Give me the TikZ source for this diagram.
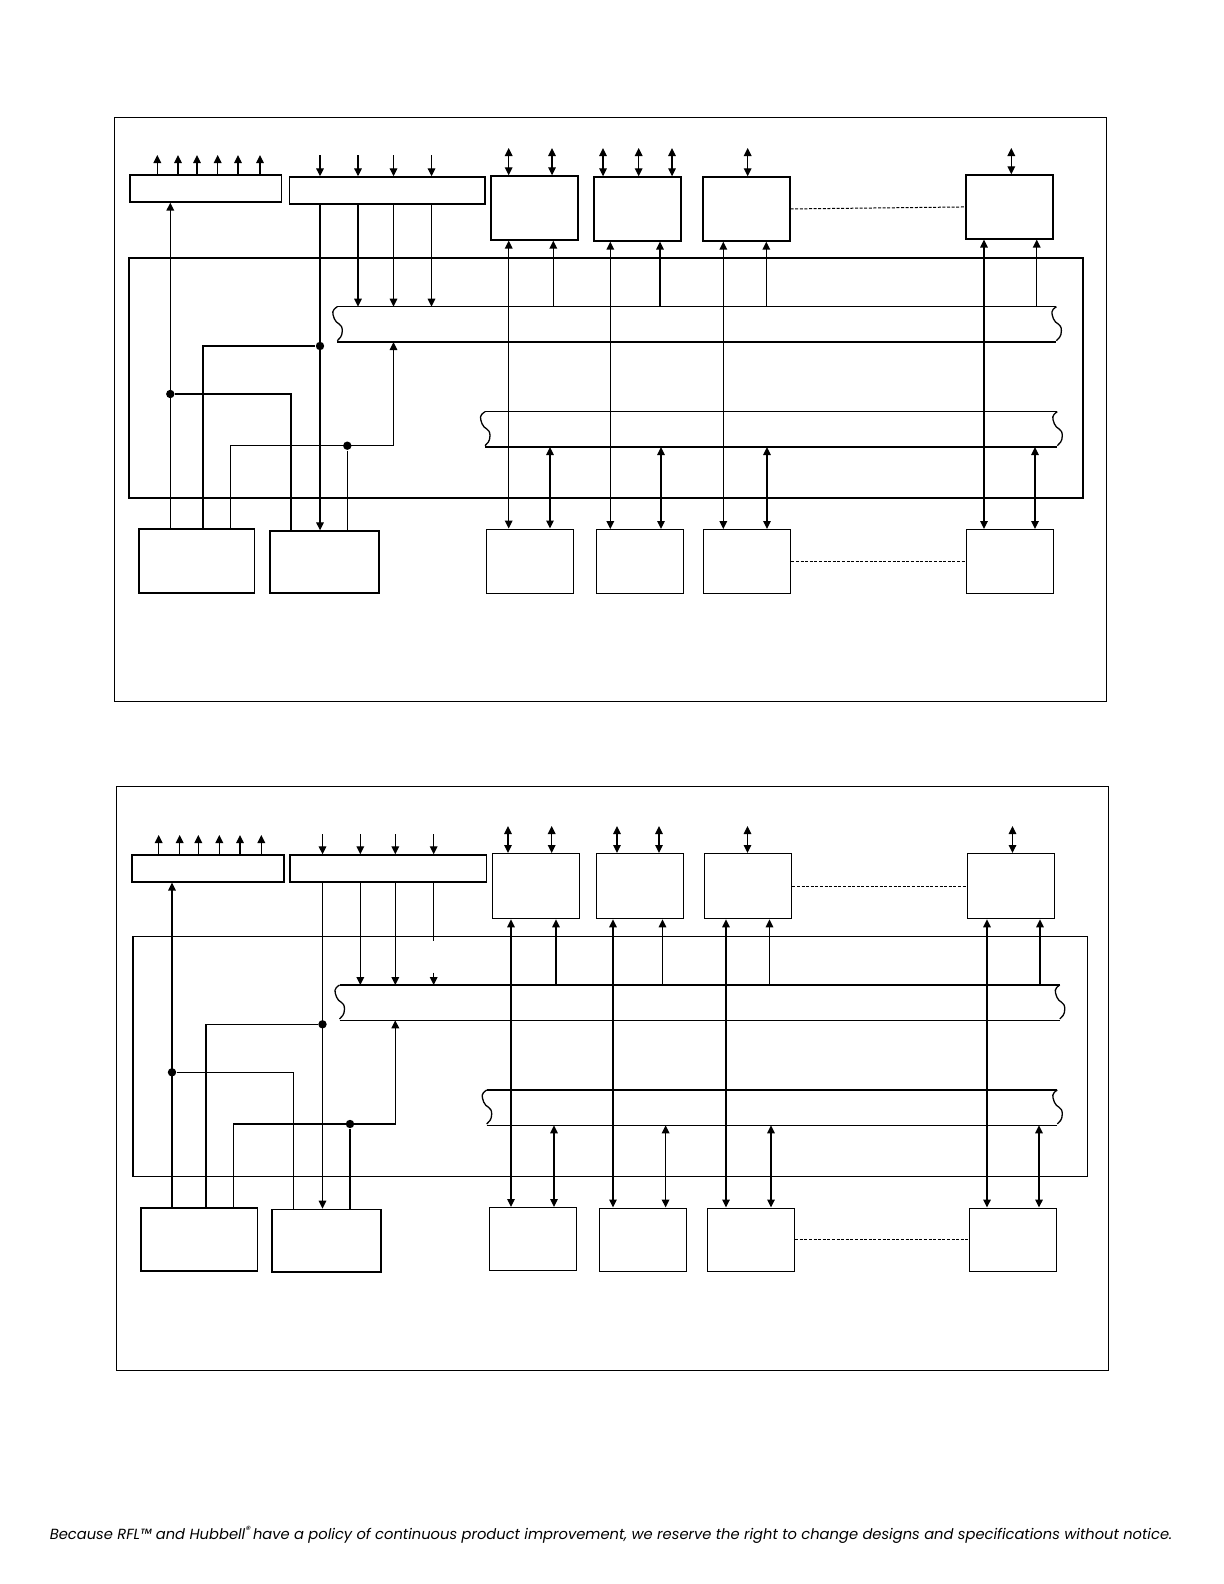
\documentclass[tikz,border=0pt]{standalone}
\usepackage{fontspec}
\usepackage{tikz}
\usetikzlibrary{arrows.meta}
\newfontfamily\notefont{Poppins}

% broken end of a bus, drawn down from the given top corner
\newcommand\busend[1]{%
  \draw (#1) .. controls +(-3pt,-2pt) and +(-1pt,3pt) .. ++(-1.5pt,-6pt)
    .. controls +(1pt,-3pt) and +(0pt,4pt) .. ++(4pt,-6pt)
    .. controls +(0pt,-3pt) and +(1pt,1pt) .. ++(-2.5pt,-5pt);}
\newcommand\busline[1]{%
  \draw (#1.north west) -- (#1.north east) (#1.south west) -- (#1.south east);
  \busend{#1.north west}\busend{#1.north east}}

\begin{document}
\begin{tikzpicture}[
  x=0.5pt,y=-0.5pt,line width=0.65pt,
  frame/.style={draw,inner sep=0pt,anchor=north west},
  bar/.style={draw,inner sep=0pt,anchor=north west,minimum height=13.5pt},
  module/.style={draw,inner sep=0pt,anchor=north west,minimum width=43.5pt,minimum height=32pt},
  bus/.style={inner sep=0pt,anchor=north west,minimum height=17pt},
  dot/.style={circle,fill,inner sep=0pt,minimum size=4.2pt},
  arr/.style={-{Triangle[length=4pt,width=3.8pt]}},
  dbl/.style={{Triangle[length=4pt,width=3.8pt]}-{Triangle[length=4pt,width=3.8pt]}},
  dashlink/.style={line width=0.5pt,dash pattern=on 1.5pt off 0.8pt}
]
  \useasboundingbox (0,0) rectangle (1224,1584);

  % upper diagram
  \node[frame,minimum width=496pt,minimum height=292pt] (outA) at (114,117) {};
  \node[frame,minimum width=477pt,minimum height=120pt] (inA) at (128.3,257.3) {};
  \node[bar,minimum width=75.7pt] (outbarA) at (129.3,174.3) {};
  \node[bar,minimum width=97.8pt] (inbarA) at (288.7,176.3) {};
  \node[module] (tA1) at (490.3,175.3) {};
  \node[module] (tA2) at (593.3,176.3) {};
  \node[module] (tA3) at (702.3,176.3) {};
  \node[module] (tA4) at (965.3,174.3) {};
  \node[module,minimum width=57.7pt] (cpuA) at (138.3,528.3) {};
  \node[module,minimum width=54.5pt,minimum height=31pt] (ioA) at (269.3,530.3) {};
  \node[module] (bA1) at (486,528.5) {};
  \node[module] (bA2) at (596,529) {};
  \node[module] (bA3) at (703,529) {};
  \node[module] (bA4) at (965.5,529) {};
  \node[bus,minimum width=358.9pt] (busA1) at (337.3,306.7) {};
  \node[bus,minimum width=285.5pt] (busA2) at (485,411.7) {};
  \busline{busA1}
  \busline{busA2}

  \foreach \x [count=\i] in {157.3,178,197,217.7,238,260} {
    \coordinate (oA\i) at (\x,155);
    \draw[arr] (oA\i |- outbarA.north) -- (oA\i);
  }
  \foreach \x [count=\i] in {320,358,393.5,431.5} {
    \coordinate (iA\i) at (\x,155);
    \draw[arr] (iA\i) -- (iA\i |- inbarA.north);
  }
  \draw[arr] (iA1 |- inbarA.south) -- (iA1 |- ioA.north);
  \foreach \i in {2,3,4}
    \draw[arr] (iA\i |- inbarA.south) -- (iA\i |- busA1.north);

  \foreach \x/\t [count=\i] in {508.7/tA1,552/tA1,603/tA2,638.7/tA2,672/tA2,747.7/tA3,1011.3/tA4} {
    \coordinate (pA\i) at (\x,148);
    \draw[dbl] (pA\i) -- (pA\i |- \t.north);
  }
  \draw[dbl] ([xshift=9.2pt]tA1.south west) -- ([xshift=9.2pt]tA1.south west |- bA1.north);
  \draw[dbl] ([xshift=8.5pt]tA2.south west) -- ([xshift=8.5pt]tA2.south west |- bA2.north);
  \draw[dbl] ([xshift=10.5pt]tA3.south west) -- ([xshift=10.5pt]tA3.south west |- bA3.north);
  \draw[dbl] ([xshift=9.35pt]tA4.south west) -- ([xshift=9.35pt]tA4.south west |- bA4.north);
  \draw[arr] ([xshift=31.5pt]tA1.south west |- busA1.north) -- ([xshift=31.5pt]tA1.south west);
  \draw[arr] ([xshift=33.35pt]tA2.south west |- busA1.north) -- ([xshift=33.35pt]tA2.south west);
  \draw[arr] ([xshift=32pt]tA3.south west |- busA1.north) -- ([xshift=32pt]tA3.south west);
  \draw[arr] ([xshift=35.7pt]tA4.south west |- busA1.north) -- ([xshift=35.7pt]tA4.south west);
  \draw[dbl] ([xshift=32pt]bA1.north west |- busA2.south) -- ([xshift=32pt]bA1.north west);
  \draw[dbl] ([xshift=32.5pt]bA2.north west |- busA2.south) -- ([xshift=32.5pt]bA2.north west);
  \draw[dbl] ([xshift=32pt]bA3.north west |- busA2.south) -- ([xshift=32pt]bA3.north west);
  \draw[dbl] ([xshift=34.75pt]bA4.north west |- busA2.south) -- ([xshift=34.75pt]bA4.north west);
  \draw[dashlink] (tA3.east) -- (tA4.west);
  \draw[dashlink] (bA3.east) -- (bA4.west);

  \node[dot] (jA1) at (170.3,394) {};
  \node[dot] (jA2) at (iA1 |- 0,346) {};
  \node[dot] (jA3) at (347.3,445.7) {};
  \draw[arr] ([xshift=16pt]cpuA.north west) -- ([xshift=16pt]cpuA.north west |- outbarA.south);
  \draw (jA1) -| ([xshift=10.85pt]ioA.north west);
  \draw ([xshift=32.35pt]cpuA.north west) |- (jA2);
  \draw[arr] ([xshift=46.2pt]cpuA.north west) |- (iA3 |- jA3) -- (iA3 |- busA1.south);
  \draw (jA3) -- (jA3 |- ioA.north);

  % lower diagram
  \node[frame,minimum width=496pt,minimum height=291.75pt] (outB) at (116,786) {};
  \node[frame,minimum width=477.35pt,minimum height=120pt] (inB) at (132.3,936) {};
  \node[bar,minimum width=76pt] (outbarB) at (131.3,854.3) {};
  \node[bar,minimum width=98.2pt] (inbarB) at (289.3,854.3) {};
  \node[module,minimum height=32.5pt] (tB1) at (492,853) {};
  \node[module,minimum height=32.5pt] (tB2) at (596,853) {};
  \node[module,minimum height=32.5pt] (tB3) at (704,853) {};
  \node[module,minimum height=32.5pt] (tB4) at (967,853) {};
  \node[module,minimum width=58.2pt,minimum height=31.5pt] (cpuB) at (140.3,1207.3) {};
  \node[module,minimum width=54.5pt,minimum height=31.3pt] (ioB) at (271.3,1208.7) {};
  \node[module,minimum height=31.5pt] (bB1) at (488.6,1207) {};
  \node[module,minimum height=31.5pt] (bB2) at (599,1207.5) {};
  \node[module,minimum height=31.5pt] (bB3) at (706.8,1207.5) {};
  \node[module,minimum height=31.5pt] (bB4) at (969,1207.5) {};
  \node[bus,minimum width=359.5pt] (busB1) at (339.5,985) {};
  \node[bus,minimum width=284.65pt] (busB2) at (486.7,1090) {};
  \busline{busB1}
  \busline{busB2}

  \foreach \x [count=\i] in {158.7,179.7,198.3,219.3,240,261.3} {
    \coordinate (oB\i) at (\x,835);
    \draw[arr] (oB\i |- outbarB.north) -- (oB\i);
  }
  \foreach \x [count=\i] in {322.5,360.3,395.3,433.7} {
    \coordinate (iB\i) at (\x,834);
    \draw[arr] (iB\i) -- (iB\i |- inbarB.north);
  }
  \draw[arr] (iB1 |- inbarB.south) -- (iB1 |- ioB.north);
  \foreach \i in {2,3}
    \draw[arr] (iB\i |- inbarB.south) -- (iB\i |- busB1.north);
  \coordinate (cutB1) at (433.7,941);
  \coordinate (cutB2) at (433.7,972.7);
  \draw (iB4 |- inbarB.south) -- (cutB1);
  \draw[arr] (cutB2) -- (cutB2 |- busB1.north);

  \foreach \x/\t [count=\i] in {508/tB1,551.7/tB1,617/tB2,659/tB2,747.5/tB3,1012.5/tB4} {
    \coordinate (pB\i) at (\x,826);
    \draw[dbl] (pB\i) -- (pB\i |- \t.north);
  }
  \draw[dbl] ([xshift=9.5pt]tB1.south west) -- ([xshift=9.5pt]tB1.south west |- bB1.north);
  \draw[dbl] ([xshift=8.5pt]tB2.south west) -- ([xshift=8.5pt]tB2.south west |- bB2.north);
  \draw[dbl] ([xshift=11pt]tB3.south west) -- ([xshift=11pt]tB3.south west |- bB3.north);
  \draw[dbl] ([xshift=10pt]tB4.south west) -- ([xshift=10pt]tB4.south west |- bB4.north);
  \draw[arr] ([xshift=32pt]tB1.south west |- busB1.north) -- ([xshift=32pt]tB1.south west);
  \draw[arr] ([xshift=33.25pt]tB2.south west |- busB1.north) -- ([xshift=33.25pt]tB2.south west);
  \draw[arr] ([xshift=32.75pt]tB3.south west |- busB1.north) -- ([xshift=32.75pt]tB3.south west);
  \draw[arr] ([xshift=36.5pt]tB4.south west |- busB1.north) -- ([xshift=36.5pt]tB4.south west);
  \draw[dbl] ([xshift=32.7pt]bB1.north west |- busB2.south) -- ([xshift=32.7pt]bB1.north west);
  \draw[dbl] ([xshift=33.3pt]bB2.north west |- busB2.south) -- ([xshift=33.3pt]bB2.north west);
  \draw[dbl] ([xshift=32.1pt]bB3.north west |- busB2.south) -- ([xshift=32.1pt]bB3.north west);
  \draw[dbl] ([xshift=35pt]bB4.north west |- busB2.south) -- ([xshift=35pt]bB4.north west);
  \draw[dashlink] (tB3.east) -- (tB4.west);
  \draw[dashlink] (bB3.east) -- (bB4.west);

  \node[dot] (jB1) at (172,1072.3) {};
  \node[dot] (jB2) at (iB1 |- 0,1024.3) {};
  \node[dot] (jB3) at (350,1124) {};
  \draw[arr] ([xshift=15.85pt]cpuB.north west) -- ([xshift=15.85pt]cpuB.north west |- outbarB.south);
  \draw (jB1) -| ([xshift=11pt]ioB.north west);
  \draw ([xshift=32.85pt]cpuB.north west) |- (jB2);
  \draw[arr] ([xshift=46.7pt]cpuB.north west) |- (iB3 |- jB3) -- (iB3 |- busB1.south);
  \draw (jB3) -- (jB3 |- ioB.north);

  \node[font=\notefont\itshape\fontsize{7.35pt}{8.5pt}\selectfont,inner sep=0pt] (note) at (611,1535)
    {Because RFL™ and Hubbell\textsuperscript{®}\kern-0.2em{} have a policy of continuous product improvement, we reserve the right to change designs and specifications without notice.};
\end{tikzpicture}
\end{document}
